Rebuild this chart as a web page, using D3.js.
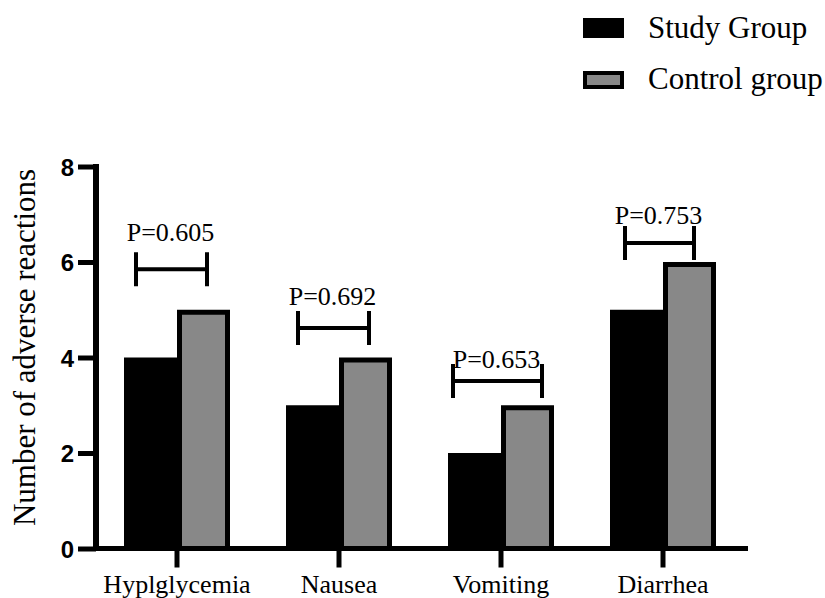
<!DOCTYPE html>
<html>
<head>
<meta charset="utf-8">
<script src="https://cdn.jsdelivr.net/npm/d3@7"></script>
<style>
  html, body { margin: 0; padding: 0; background: #fff; }
  svg { display: block; }
</style>
</head>
<body>
<svg id="chart" width="825" height="598"></svg>
<script>
// Adverse reaction counts per group
const categories = ["Hyplglycemia", "Nausea", "Vomiting", "Diarrhea"];
const seriesNames = ["Study Group", "Control group"];
const studyValues = [4, 3, 2, 5];
const controlValues = [5, 4, 3, 6];
const pLabels = ["P=0.605", "P=0.692", "P=0.653", "P=0.753"];
const bracketLevels = [5.85, 4.62, 3.51, 6.40];
const pLabelLevels = [6.44, 5.10, 3.79, 6.80];
const yTicks = [0, 2, 4, 6, 8];

const svg = d3.select("#chart");
const serifFont = "Liberation Serif";
const sansFont = "Liberation Sans";
const grey = "#888888";

const x = d3.scaleBand().domain(categories).range([96, 744]).padding(0);
const y = d3.scaleLinear().domain([0, 8]).range([548.5, 166.5]);
const half = 53;      // width of each bar within a group
const border = 5;     // outline of control bars

const cx = c => x(c) + x.bandwidth() / 2;

// Study bars (solid black)
svg.append("g").selectAll("rect")
  .data(categories)
  .join("rect")
  .attr("x", c => cx(c) - half)
  .attr("y", (c, i) => y(studyValues[i]))
  .attr("width", half)
  .attr("height", (c, i) => y(0) - y(studyValues[i]))
  .attr("fill", "#000");

// Control bars (grey with heavy black outline)
svg.append("g").selectAll("rect")
  .data(categories)
  .join("rect")
  .attr("x", c => cx(c) + border / 2)
  .attr("y", (c, i) => y(controlValues[i]) + border / 2)
  .attr("width", half - border)
  .attr("height", (c, i) => y(0) - y(controlValues[i]) - border / 2)
  .attr("fill", grey)
  .attr("stroke", "#000")
  .attr("stroke-width", border);

// Y axis
const yAxis = d3.axisLeft(y).tickValues(yTicks).tickSize(18).tickPadding(4);
const gy = svg.append("g").attr("transform", "translate(96,0)").call(yAxis)
  .attr("font-family", sansFont);
gy.select(".domain").remove();
gy.selectAll(".tick line").attr("stroke", "#000").attr("stroke-width", 5);
gy.selectAll(".tick text")
  .attr("font-family", sansFont).attr("font-weight", "bold")
  .attr("font-size", 24).attr("fill", "#000")
  .attr("dy", "0.36em");
svg.append("line")
  .attr("x1", 96).attr("x2", 96)
  .attr("y1", y(8) - 2.5).attr("y2", y(0) + 2.5)
  .attr("stroke", "#000").attr("stroke-width", 6);

// X axis
const xAxis = d3.axisBottom(x).tickSize(19).tickPadding(7);
const gx = svg.append("g").attr("transform", `translate(0,${y(0)})`).call(xAxis)
  .attr("font-family", serifFont);
gx.select(".domain").remove();
gx.selectAll(".tick line").attr("stroke", "#000").attr("stroke-width", 5);
gx.selectAll(".tick text")
  .attr("font-family", serifFont).attr("font-size", 26).attr("fill", "#000")
  .attr("dy", "0.72em");
svg.append("line")
  .attr("x1", 93).attr("x2", 748)
  .attr("y1", y(0)).attr("y2", y(0))
  .attr("stroke", "#000").attr("stroke-width", 5);

// Y axis title
svg.append("text")
  .attr("transform", `translate(35,${(y(8) + y(0)) / 2 - 10}) rotate(-90)`)
  .attr("text-anchor", "middle")
  .attr("font-family", serifFont).attr("font-size", 31).attr("fill", "#000")
  .text("Number of adverse reactions");

// Significance brackets with P values
const bracketSpan = [[-41, 30], [-41, 30], [-48, 41], [-38, 31]];
const bracketTick = 17;
const br = svg.append("g").selectAll("g")
  .data(categories)
  .join("g");
br.each(function (c, i) {
  const g = d3.select(this);
  const x0 = cx(c) + bracketSpan[i][0];
  const x1 = cx(c) + bracketSpan[i][1];
  const yb = y(bracketLevels[i]);
  const path = d3.path();
  path.moveTo(x0, yb - bracketTick); path.lineTo(x0, yb + bracketTick);
  path.moveTo(x0, yb); path.lineTo(x1, yb);
  path.moveTo(x1, yb - bracketTick); path.lineTo(x1, yb + bracketTick);
  g.append("path").attr("d", path.toString())
    .attr("fill", "none").attr("stroke", "#000").attr("stroke-width", 4);
  g.append("text")
    .attr("x", (x0 + x1) / 2 - 1)
    .attr("y", y(pLabelLevels[i]))
    .attr("text-anchor", "middle")
    .attr("font-family", serifFont).attr("font-size", 26).attr("fill", "#000")
    .text(pLabels[i]);
});

// Legend
const legend = svg.append("g").attr("transform", "translate(583,0)");
seriesNames.forEach((name, i) => {
  const gy0 = i === 0 ? 18 : 71;
  if (i === 0) {
    legend.append("rect").attr("x", 0).attr("y", gy0).attr("width", 41).attr("height", 20)
      .attr("fill", "#000");
  } else {
    legend.append("rect").attr("x", 2).attr("y", gy0 + 2).attr("width", 37).attr("height", 14)
      .attr("fill", grey).attr("stroke", "#000").attr("stroke-width", 4);
  }
  legend.append("text")
    .attr("x", 65).attr("y", i === 0 ? 38 : 89)
    .attr("font-family", serifFont).attr("font-size", 31).attr("fill", "#000")
    .text(name);
});
</script>
</body>
</html>
